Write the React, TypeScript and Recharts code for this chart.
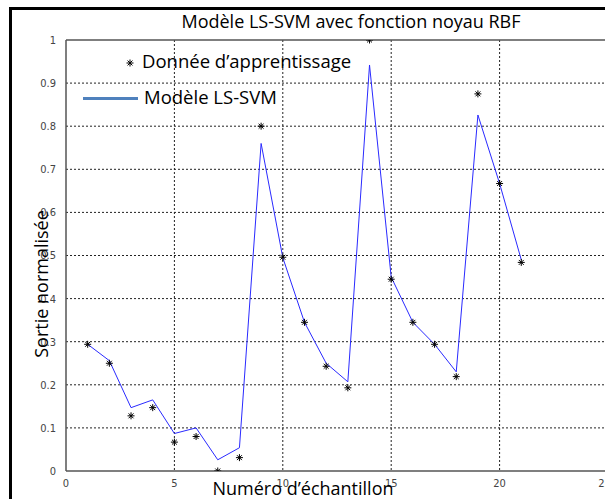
import React from "react";
import { ComposedChart, Line, Scatter, XAxis, YAxis, CartesianGrid, ReferenceLine } from "recharts";

// numéro d'échantillon
const samples = [1, 2, 3, 4, 5, 6, 7, 8, 9, 10, 11, 12, 13, 14, 15, 16, 17, 18, 19, 20, 21];
// données d'apprentissage (étoiles)
const trainValues = [0.294, 0.25, 0.128, 0.147, 0.067, 0.08, 0.0, 0.031, 0.8, 0.496, 0.345, 0.243, 0.193, 1.0, 0.445, 0.345, 0.294, 0.219, 0.875, 0.667, 0.484];
// sortie du modèle LS-SVM
const modelValues = [0.294, 0.256, 0.147, 0.165, 0.087, 0.1, 0.026, 0.054, 0.76, 0.495, 0.345, 0.25, 0.207, 0.942, 0.45, 0.345, 0.294, 0.23, 0.826, 0.667, 0.49];

const xTicks = [0, 5, 10, 15, 20, 25];
const yTicks = [0, 0.1, 0.2, 0.3, 0.4, 0.5, 0.6, 0.7, 0.8, 0.9, 1];

const chartData = samples.map((x, i) => ({ x, data: trainValues[i], model: modelValues[i] }));

const textFont = "'Open Sans', 'DejaVu Sans', sans-serif";
const tickFont = "'Liberation Sans Narrow', 'DejaVu Sans Condensed', sans-serif";

// marqueur '*' façon MATLAB
const Star = (props: any) => {
  const { cx, cy } = props;
  const r = 3.5;
  const d = r * 0.7;
  return (
    <g stroke="#000" strokeWidth={1}>
      <line x1={cx - r} y1={cy} x2={cx + r} y2={cy} />
      <line x1={cx} y1={cy - r} x2={cx} y2={cy + r} />
      <line x1={cx - d} y1={cy - d} x2={cx + d} y2={cy + d} />
      <line x1={cx - d} y1={cy + d} x2={cx + d} y2={cy - d} />
    </g>
  );
};

export default function App() {
  return (
    <div style={{ position: "absolute", left: 0, top: 0, width: 605, height: 499, overflow: "hidden", background: "#fff" }}>
      {/* cadre extérieur */}
      <div style={{ position: "absolute", left: 9, top: 7, width: 700, height: 600, borderLeft: "3px solid #000", borderTop: "3px solid #000" }} />
      <ComposedChart
        width={610}
        height={499}
        data={chartData}
        margin={{ top: 40, right: 2, left: 0, bottom: 0 }}
        style={{ position: "absolute", left: 0, top: 0 }}
      >
        <CartesianGrid stroke="#222" strokeDasharray="2 2" strokeWidth={1} horizontalValues={yTicks.slice(1, -1)} verticalValues={xTicks.slice(1, -1)} />
        <XAxis
          type="number"
          dataKey="x"
          domain={[0, 25]}
          ticks={xTicks}
          height={28}
          stroke="#555"
          strokeWidth={1.5}
          tickLine={false}
          tickMargin={2}
          tick={{ fill: "#444", fontSize: 11, fontFamily: tickFont }}
          allowDataOverflow
        />
        <YAxis
          type="number"
          domain={[0, 1]}
          ticks={yTicks}
          width={66}
          stroke="#555"
          strokeWidth={1.5}
          tickLine={false}
          tickMargin={4}
          tick={{ fill: "#444", fontSize: 11, fontFamily: tickFont }}
          allowDataOverflow
        />
        <ReferenceLine y={1} stroke="#555" strokeWidth={1.5} />
        <Line
          type="linear"
          dataKey="model"
          stroke="#2a2aff"
          strokeWidth={1}
          dot={false}
          activeDot={false}
          isAnimationActive={false}
        />
        <Scatter dataKey="data" shape={<Star />} isAnimationActive={false} />
      </ComposedChart>

      {/* titre */}
      <div style={{ position: "absolute", left: 0, width: 702, top: 9, textAlign: "center", fontFamily: textFont, fontSize: 18, color: "#000", whiteSpace: "nowrap" }}>
        Modèle LS-SVM avec fonction noyau RBF
      </div>

      {/* légende */}
      <svg style={{ position: "absolute", left: 123, top: 56 }} width={14} height={14}>
        <Star cx={7} cy={7} />
      </svg>
      <div style={{ position: "absolute", left: 142, top: 48, fontFamily: textFont, fontSize: 18.5, color: "#000", whiteSpace: "nowrap" }}>
        Donnée d’apprentissage
      </div>
      <div style={{ position: "absolute", left: 83, top: 97, width: 55, height: 2.5, background: "#4f81bd" }} />
      <div style={{ position: "absolute", left: 144, top: 84, fontFamily: textFont, fontSize: 18.5, color: "#000", whiteSpace: "nowrap" }}>
        Modèle LS-SVM
      </div>

      {/* titres des axes */}
      <div style={{ position: "absolute", left: 41, top: 284, transform: "translate(-50%, -50%) rotate(-90deg)", fontFamily: textFont, fontSize: 18, color: "#000", whiteSpace: "nowrap" }}>
        Sortie normalisée
      </div>
      <div style={{ position: "absolute", left: 303, top: 488, transform: "translate(-50%, -50%)", fontFamily: textFont, fontSize: 18, color: "#000", whiteSpace: "nowrap" }}>
        Numéro d’échantillon
      </div>
    </div>
  );
}
